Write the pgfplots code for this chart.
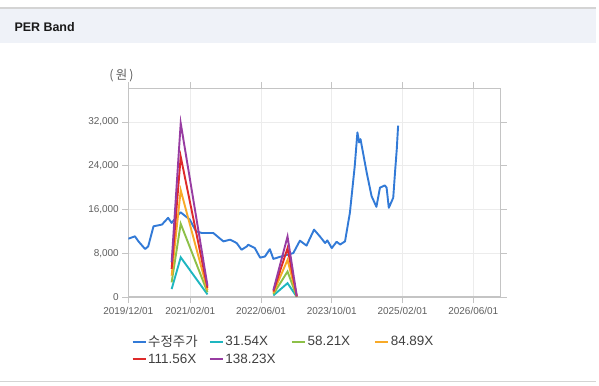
\documentclass[border=0pt]{standalone}
\usepackage{pgfplots}
\pgfplotsset{compat=1.18}
\usepackage{fontspec}
\setmainfont{Liberation Sans}
\newfontfamily\kr{Noto Sans CJK KR}
\definecolor{cBlue}{RGB}{50,122,215}
\definecolor{cCyan}{RGB}{30,182,192}
\definecolor{cGreen}{RGB}{141,192,72}
\definecolor{cOrange}{RGB}{248,170,40}
\definecolor{cRed}{RGB}{222,42,42}
\definecolor{cPurple}{RGB}{152,60,162}
\definecolor{band}{RGB}{239,242,248}
\definecolor{rule}{RGB}{212,212,212}
\definecolor{frame}{RGB}{196,196,196}
\definecolor{gridc}{RGB}{236,236,236}
\definecolor{txt}{RGB}{95,95,95}
\begin{document}
\begin{tikzpicture}[x=1bp,y=1bp]
\path[use as bounding box] (0,0) rectangle (599,385);
\fill[white] (0,0) rectangle (599,385);
\fill[band] (0,342) rectangle (596,376);
\draw[rule, line width=1.2bp] (0,377) -- (596,377);
\draw[rule, line width=1bp] (0,3.5) -- (596,3.5);
\node[anchor=west, font=\fontsize{12.5}{15}\selectfont\bfseries, text=black!90] at (11,358) {PER Band};
\node[font=\kr\fontsize{12.5}{14}\selectfont, text=txt] at (121.5,309) {(\,원\,)};
\begin{axis}[
  at={(128.3bp,88bp)}, anchor=south west,
  width=372.4bp, height=208.7bp, scale only axis,
  xmin=0, xmax=84.2, ymin=0, ymax=38160,
  unbounded coords=jump,
  xtick={0,14,30,46,62,78},
  xticklabels={2019/12/01,2021/02/01,2022/06/01,2023/10/01,2025/02/01,2026/06/01},
  ytick={0,8000,16000,24000,32000},
  scaled y ticks=false,
  /pgf/number format/.cd, 1000 sep={,}, assume math mode=true, /pgfplots/.cd,
  tick label style={font=\fontsize{10}{12}\selectfont, text=txt},
  xticklabel style={yshift=-1bp},
  tick align=outside, major tick length=6bp,
  tick style={color=frame, line width=0.8bp},
  axis line style={color=frame, line width=1.3bp},
  grid=major, major grid style={color=gridc, line width=0.8bp},
  legend columns=4,
  legend style={at={(0.0,-0.17)}, anchor=north west, draw=none, fill=none,
    font=\fontsize{13.5}{15}\selectfont, text=black!75,
    nodes={inner xsep=1.5bp, inner ysep=1bp}, row sep=3.5bp},
  legend cell align=left,
  legend image code/.code={\draw[#1, line width=2.2bp] (0,0) -- (13bp,0);},
]
\addplot[cBlue, line width=1.9bp, line join=round] coordinates {
(0,10660) (1.5,11090) (2.3,10170) (3.8,8770) (4.5,9250) (5.7,12930) (7.6,13240)
(9.0,14470) (9.8,13550) (11.8,15500) (13.9,14160) (15.3,12010) (16.6,11710)
(19.2,11710) (21.5,10170) (23.0,10480) (24.5,9870) (25.6,8640) (26.8,9250)
(27.1,9560) (28.6,8950) (29.8,7200) (30.9,7410) (32.0,8740) (32.8,6960)
(34.3,7350) (37.3,8030) (38.8,10300) (40.3,9400) (42.0,12320) (43.3,11090)
(44.5,9870) (45.0,10350) (46.0,8950) (47.1,10100) (47.9,9600) (49.0,10170)
(50.1,15400) (51.2,23960) (51.8,30100) (52.2,28260) (52.5,28870) (53.9,22750)
(55.0,18450) (56.1,16490) (56.9,19990) (58.0,20410) (58.4,19990) (58.9,16310)
(59.9,18150) (60.3,22750) (60.7,27030) (61.0,31320)};
\addlegendentry{\makebox[59bp][l]{\kr 수정주가}}
\addplot[cCyan, line width=1.9bp] coordinates {
(9.8,1451) (11.85,7254) (17.9,473) (25,nan) (32.8,284) (36.0,2523) (38.1,32)};
\addlegendentry{\makebox[64bp][l]{31.54X}}
\addplot[cGreen, line width=1.9bp] coordinates {
(9.8,2678) (11.85,13388) (17.9,873) (25,nan) (32.8,524) (36.0,4657) (38.1,58)};
\addlegendentry{\makebox[65bp][l]{58.21X}}
\addplot[cOrange, line width=1.9bp] coordinates {
(9.8,3905) (11.85,19525) (17.9,1273) (25,nan) (32.8,764) (36.0,6791) (38.1,85)};
\addlegendentry{84.89X}
\addplot[cRed, line width=1.9bp] coordinates {
(9.8,5132) (11.85,25659) (17.9,1673) (25,nan) (32.8,1004) (36.0,8925) (38.1,112)};
\addlegendentry{\makebox[59bp][l]{111.56X}}
\addplot[cPurple, line width=1.9bp] coordinates {
(9.8,6359) (11.85,31793) (17.9,2073) (25,nan) (32.8,1244) (36.0,11058) (38.1,138)};
\addlegendentry{138.23X}
\end{axis}
\end{tikzpicture}
\end{document}
